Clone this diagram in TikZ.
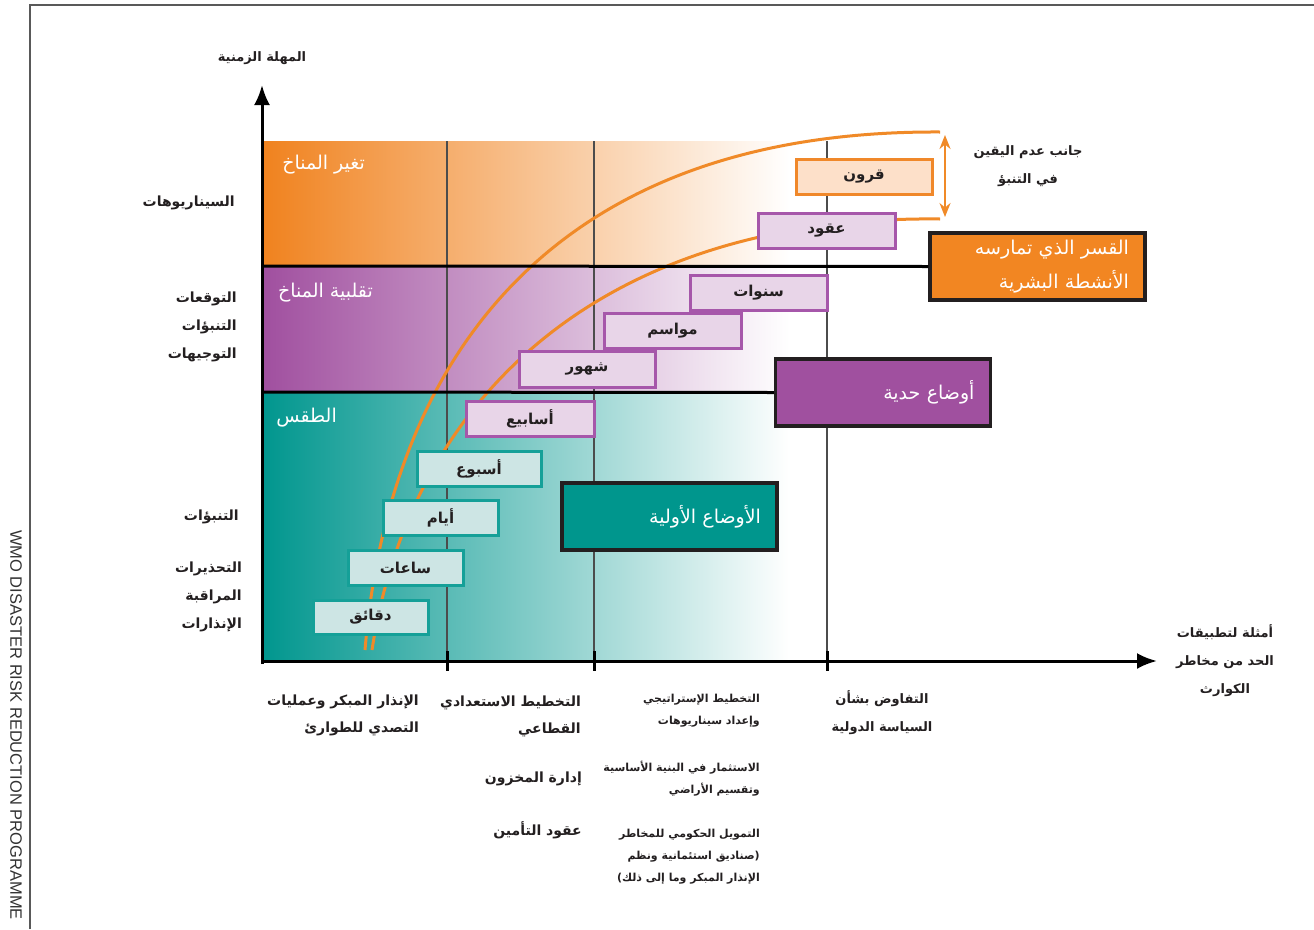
\documentclass[tikz,border=0pt]{standalone}
\usepackage{fontspec}
\usetikzlibrary{arrows.meta}
\TeXXeTstate=1
\setmainfont{Liberation Sans}
\newfontfamily\ar[Script=Arabic]{DejaVu Sans}
\newcommand\artxt[1]{\beginR#1\endR}
\definecolor{cOr}{HTML}{F0821E}
\definecolor{cPu}{HTML}{A04F9F}
\definecolor{cTe}{HTML}{00968E}
\definecolor{cOrL}{HTML}{FDE0C9}
\definecolor{cPuL}{HTML}{E8D5E8}
\definecolor{cTeL}{HTML}{CDE5E4}
\definecolor{cTeB}{HTML}{15A098}
\definecolor{cPuB}{HTML}{A657AA}
\definecolor{cOrB}{HTML}{F0882A}
\definecolor{ink}{HTML}{231F20}
\definecolor{cCurve}{HTML}{F08A28}
\definecolor{cBigOr}{HTML}{F28622}
\definecolor{cBigPu}{HTML}{A0509F}
\definecolor{cBigTe}{HTML}{00968D}
\tikzset{
  smallbox/.style={line width=3pt, inner sep=0pt, text=ink, font=\ar\bfseries\fontsize{15}{17}\selectfont},
  tbox/.style={smallbox, draw=cTeB, fill=cTeL},
  pbox/.style={smallbox, draw=cPuB, fill=cPuL},
  obox/.style={smallbox, draw=cOrB, fill=cOrL},
  bigbox/.style={draw=ink, line width=3.5pt, text=white, font=\ar\fontsize{19}{34}\selectfont,
    align=right, inner xsep=0pt, inner ysep=0pt, minimum width=215pt, minimum height=67pt, text width=183pt},
  lbl/.style={text=ink, font=\ar\bfseries\fontsize{14}{28}\selectfont, align=right, inner sep=0pt},
  blbl/.style={text=ink, font=\ar\bfseries\fontsize{14}{27}\selectfont, align=right, inner sep=0pt},
  slbl/.style={text=ink, font=\ar\bfseries\fontsize{11}{22}\selectfont, align=right, inner sep=0pt},
  clbl/.style={text=ink, font=\ar\bfseries\fontsize{13}{28}\selectfont, align=center, inner sep=0pt},
  bandtitle/.style={text=white, font=\ar\fontsize{19}{22}\selectfont, inner sep=0pt},
  grid line/.style={draw=black!70, line width=1.2pt},
  sep line/.style={draw=black, line width=3pt},
  curve/.style={draw=cCurve, line width=3pt},
  axis/.style={draw=black, line width=3pt, -{Latex[length=20pt,width=16pt]}},
  tick/.style={draw=black, line width=3pt}
}
\begin{document}
\begin{tikzpicture}[x=1pt,y=-1pt]
\useasboundingbox (0,0) rectangle (1314,929);
\fill[white] (0,0) rectangle (1314,929);
% frame
\draw[line width=1.5pt, draw=black!65] (30,929) -- (30,5) -- (1314,5);
\node[rotate=-90, anchor=north west, inner sep=0pt, text=black!80, font=\fontsize{16.5}{19}\selectfont] (wmo) at (22,530) {WMO DISASTER RISK REDUCTION PROGRAMME};
% bands
\shade[left color=cOr, right color=white] (262,141) rectangle (790,266);
\shade[left color=cPu, right color=white] (262,266) rectangle (790,392);
\shade[left color=cTe, right color=white] (262,392) rectangle (790,661);
% grid lines
\draw[grid line] (447,141) -- (447,661);
\draw[grid line] (594,141) -- (594,661);
\draw[grid line] (827,141) -- (827,661);
% curves
\draw[curve] (365,650) .. controls (390,350) and (560,130) .. (940,132);
\draw[curve] (372,650) .. controls (410,400) and (600,215) .. (940,219);
% big boxes
\node[bigbox, fill=cBigOr] (force) at (1037.5,266.5) {\artxt{القسر الذي تمارسه}\\\artxt{الأنشطة البشرية}};
\node[bigbox, fill=cBigPu] (bound) at (883,392.5) {\artxt{أوضاع حدية}};
\node[bigbox, fill=cBigTe] (init) at (669.5,516.5) {\artxt{الأوضاع الأولية}};
% separator lines
\coordinate (s1) at (262,266);
\coordinate (s2) at (262,392);
\draw[sep line] (s1) -- (force.west);
\draw[sep line] (s2) -- (bound.west);
% small boxes
\node[tbox, minimum width=115pt, minimum height=34pt] (b1) at (370.5,617) {\artxt{دقائق}};
\node[tbox, minimum width=115pt, minimum height=35pt] (b2) at (405.5,567.5) {\artxt{ساعات}};
\node[tbox, minimum width=115pt, minimum height=35pt] (b3) at (440.5,517.5) {\artxt{أيام}};
\node[tbox, minimum width=124pt, minimum height=35pt] (b4) at (479,468.5) {\artxt{أسبوع}};
\node[pbox, minimum width=128pt, minimum height=35pt] (b5) at (530,418.5) {\artxt{أسابيع}};
\node[pbox, minimum width=136pt, minimum height=36pt] (b6) at (587,369) {\artxt{شهور}};
\node[pbox, minimum width=137pt, minimum height=35pt] (b7) at (672.5,330.5) {\artxt{مواسم}};
\node[pbox, minimum width=137pt, minimum height=35pt] (b8) at (758.5,292.5) {\artxt{سنوات}};
\node[pbox, minimum width=137pt, minimum height=35pt] (b9) at (826.5,230.5) {\artxt{عقود}};
\node[obox, minimum width=136pt, minimum height=35pt] (b10) at (864,176.5) {\artxt{قرون}};
% band titles
\node[bandtitle, anchor=east] (t1) at (365,165) {\artxt{تغير المناخ}};
\node[bandtitle, anchor=east] (t2) at (373,293) {\artxt{تقلبية المناخ}};
\node[bandtitle, anchor=east] (t3) at (337,418) {\artxt{الطقس}};
% uncertainty arrow
\coordinate (u1) at (945,135);
\coordinate (u2) at (945,217);
\draw[draw=cCurve, line width=2pt, {Stealth[length=14pt,width=11pt]}-{Stealth[length=14pt,width=11pt]}] (u1) -- (u2);
\node[clbl] (unc) at (1028,166.5) {\artxt{جانب عدم اليقين}\\\artxt{في التنبؤ}};
% axes
\coordinate (o) at (262,661);
\coordinate (ytip) at (262,85);
\coordinate (xtip) at (1157,661);
\draw[axis] (262,664) -- (ytip);
\draw[axis] (o) -- (xtip);
\draw[tick] (447,651) -- (447,671);
\draw[tick] (594,651) -- (594,671);
\draw[tick] (827,651) -- (827,671);
% axis labels
\node[clbl] (ylab) at (262,58) {\artxt{المهلة الزمنية}};
\node[clbl] (xlab) at (1225,661) {\artxt{أمثلة لتطبيقات}\\\artxt{الحد من مخاطر}\\\artxt{الكوارث}};
% left labels
\node[lbl, anchor=east] (l1) at (235,203) {\artxt{السيناريوهات}};
\node[lbl, anchor=east] (l2) at (237,327) {\artxt{التوقعات}\\\artxt{التنبؤات}\\\artxt{التوجيهات}};
\node[lbl, anchor=east] (l3) at (239,517) {\artxt{التنبؤات}};
\node[lbl, anchor=east] (l4) at (242,597) {\artxt{التحذيرات}\\\artxt{المراقبة}\\\artxt{الإنذارات}};
% bottom labels
\node[blbl, anchor=east] (d1) at (419,715.5) {\artxt{الإنذار المبكر وعمليات}\\\artxt{التصدي للطوارئ}};
\node[blbl, anchor=east] (d2) at (581,716) {\artxt{التخطيط الاستعدادي}\\\artxt{القطاعي}};
\node[blbl, anchor=east] (d3) at (582,779) {\artxt{إدارة المخزون}};
\node[blbl, anchor=east] (d4) at (582,830) {\artxt{عقود التأمين}};
\node[slbl, anchor=east] (d5) at (760,711) {\artxt{التخطيط الإستراتيجي}\\\artxt{وإعداد سيناريوهات}};
\node[slbl, anchor=east] (d6) at (760,779) {\artxt{الاستثمار في البنية الأساسية}\\\artxt{وتقسيم الأراضي}};
\node[slbl, anchor=east] (d7) at (760,857) {\artxt{التمويل الحكومي للمخاطر}\\\artxt{(صناديق استئمانية ونظم}\\\artxt{الإنذار المبكر وما إلى ذلك)}};
\node[clbl] (d8) at (882,712.5) {\artxt{التفاوض بشأن}\\\artxt{السياسة الدولية}};
\end{tikzpicture}
\end{document}
